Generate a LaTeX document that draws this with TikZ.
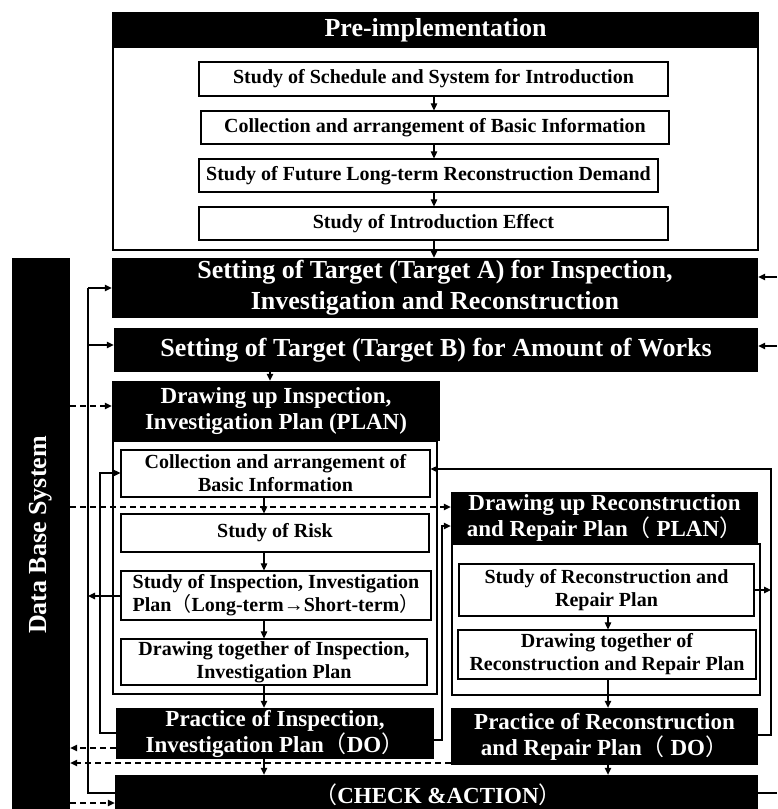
\documentclass[tikz,border=0pt]{standalone}
\usepackage{fontspec}
\setmainfont{Liberation Serif}
\newfontfamily\cjk{Noto Sans CJK JP}
\usetikzlibrary{arrows.meta}
\newcommand\fbig{\fontsize{26}{31}\selectfont\bfseries}
\newcommand\fmid{\fontsize{23}{26}\selectfont\bfseries}
\newcommand\fsml{\fontsize{20}{23}\selectfont\bfseries}
\newcommand\lpar{{\cjk\mdseries （}}
\newcommand\rpar{{\cjk\mdseries ）}}
\tikzset{
  bx/.style={draw=black, line width=1.2pt, fill=white, inner sep=0pt, align=center, font=\fsml},
  fr/.style={draw=black, line width=1.2pt, fill=white, inner sep=0pt},
  bk/.style={fill=black, text=white, inner sep=0pt, align=center},
  ln/.style={line width=1.1pt},
  arr/.style={line width=1.1pt, -{Triangle[length=7pt,width=6.5pt]}},
  dsh/.style={arr, dash pattern=on 6pt off 4pt},
}
\begin{document}
\begin{tikzpicture}[x=1pt,y=-1pt]
\useasboundingbox (0,0) rectangle (777,809);
\clip (0,0) rectangle (777,809);
\fill[white] (0,0) rectangle (777,809);

% Pre-implementation
\node[fr, minimum width=645pt, minimum height=237pt] (preframe) at (435.5,131.5) {};
\node[bk, font=\fbig, minimum width=645pt, minimum height=35pt] (prehead) at (435.5,30.5) {Pre-implementation};
\node[bx, minimum width=469pt, minimum height=34pt] (p1) at (433.5,79) {Study of Schedule and System for Introduction};
\node[bx, minimum width=468pt, minimum height=33pt] (p2) at (435,127.5) {Collection and arrangement of Basic Information};
\node[bx, minimum width=459pt, minimum height=33pt] (p3) at (428.5,175.5) {Study of Future Long-term Reconstruction Demand};
\node[bx, minimum width=469pt, minimum height=33pt] (p4) at (433.5,223.5) {Study of Introduction Effect};

% Targets
\node[bk, font=\fbig, minimum width=646pt, minimum height=60pt] (tA) at (435,288) {Setting of Target (Target A) for Inspection,\\Investigation and Reconstruction};
\node[bk, font=\fbig, minimum width=644pt, minimum height=44pt] (tB) at (436,350) {Setting of Target (Target B) for Amount of Works};

% Data base
\node[bk, minimum width=58pt, minimum height=574pt] (db) at (41,545) {};
\node[text=white, font=\fbig, rotate=90, inner sep=0pt] (dbtxt) at (41,535) {Data Base System};

% Inspection column
\node[fr, minimum width=324pt, minimum height=253pt] (iframe) at (275,567.5) {};
\node[bk, font=\fmid, minimum width=328pt, minimum height=60pt] (ihead) at (276,411) {Drawing up Inspection,\\Investigation Plan (PLAN)};
\node[bx, minimum width=309pt, minimum height=47pt] (i1) at (275.5,473.5) {Collection and arrangement of\\Basic Information};
\node[bx, minimum width=308pt, minimum height=38pt] (i2) at (275,533) {Study of Risk};
\node[bx, minimum width=310pt, minimum height=49pt] (i3) at (276,595.5) {Study of Inspection, Investigation\\Plan\lpar{}Long-term→Short-term\rpar};
\node[bx, minimum width=306pt, minimum height=46pt] (i4) at (274,662) {Drawing together of Inspection,\\Investigation Plan};
\node[bk, font=\fmid, minimum width=318pt, minimum height=51pt] (ido) at (275,733.5) {Practice of Inspection,\\Investigation Plan\lpar{}DO\rpar};

% Reconstruction column
\node[fr, minimum width=308pt, minimum height=151pt] (rframe) at (606,619.5) {};
\node[bk, font=\fmid, minimum width=307pt, minimum height=52pt] (rhead) at (604.5,518) {Drawing up Reconstruction\\and Repair Plan\lpar{} PLAN\rpar};
\node[bx, minimum width=295pt, minimum height=52pt] (r1) at (606.5,590) {Study of Reconstruction and\\Repair Plan};
\node[bx, minimum width=298pt, minimum height=49pt] (r2) at (607,654.5) {Drawing together of\\Reconstruction and Repair Plan};
\node[bk, font=\fmid, minimum width=307pt, minimum height=57pt] (rdo) at (604.5,736.5) {Practice of Reconstruction\\and Repair Plan\lpar{} DO\rpar};

% Check
\node[bk, minimum width=643pt, minimum height=55pt] (check) at (436.5,802.5) {};
\node[text=white, font=\fmid, inner sep=0pt] (checktxt) at (438,795) {\lpar{}CHECK \&ACTION\rpar};

% vertical flow arrows
\draw[arr] (p1.south -| 434,0) -- (p2.north -| 434,0);
\draw[arr] (p2.south -| 434,0) -- (p3.north -| 434,0);
\draw[arr] (p3.south -| 434,0) -- (p4.north -| 434,0);
\draw[arr] (p4.south -| 434,0) -- (tA.north -| 434,0);
\draw[arr] (tB.south -| 270,0) -- (ihead.north -| 270,0);
\draw[arr] (i1.south -| 264,0) -- (i2.north -| 264,0);
\draw[arr] (i2.south -| 264,0) -- (i3.north -| 264,0);
\draw[arr] (i3.south -| 264,0) -- (i4.north -| 264,0);
\draw[arr] (i4.south -| 264,0) -- (ido.north -| 264,0);
\draw[arr] (ido.south -| 264,0) -- (check.north -| 264,0);
\draw[arr] (r1.south -| 608,0) -- (r2.north -| 608,0);
\draw[arr] (r2.south -| 608,0) -- (rdo.north -| 608,0);
\draw[arr] (rdo.south -| 608,0) -- (check.north -| 608,0);

% left feedback loops
\draw[ln] (check.west |- 0,793) -- (88,793) -- (88,288);
\draw[arr] (88,288) -- (tA.west |- 0,288);
\draw[arr] (88,345) -- (tB.west |- 0,345);
\draw[arr] (i3.west |- 0,596) -- (88,596);
\draw[arr] (ido.west |- 0,733) -- (100,733) -- (100,473) -- (i1.west |- 0,473);

% middle and right loops
\draw[arr] (ido.east |- 0,740) -- (442,740) -- (442,526) -- (rhead.west |- 0,526);
\draw[arr] (rdo.east |- 0,735) -- (771,735) -- (771,469) -- (i1.east |- 0,469);
\draw[arr] (r1.east |- 0,590) -- (771,590);
\draw[ln] (check.east |- 0,793) -- (777,793);
\draw[arr] (777,277) -- (tA.east |- 0,277);
\draw[arr] (777,346) -- (tB.east |- 0,346);

% dashed data links
\draw[dsh] (db.east |- 0,406) -- (ihead.west |- 0,406);
\draw[dsh] (db.east |- 0,507) -- (rhead.west |- 0,507);
\draw[dsh] (ido.west |- 0,748) -- (db.east |- 0,748);
\draw[dsh] (rdo.west |- 0,763) -- (db.east |- 0,763);
\draw[dsh] (db.east |- 0,803) -- (check.west |- 0,803);
\end{tikzpicture}
\end{document}
